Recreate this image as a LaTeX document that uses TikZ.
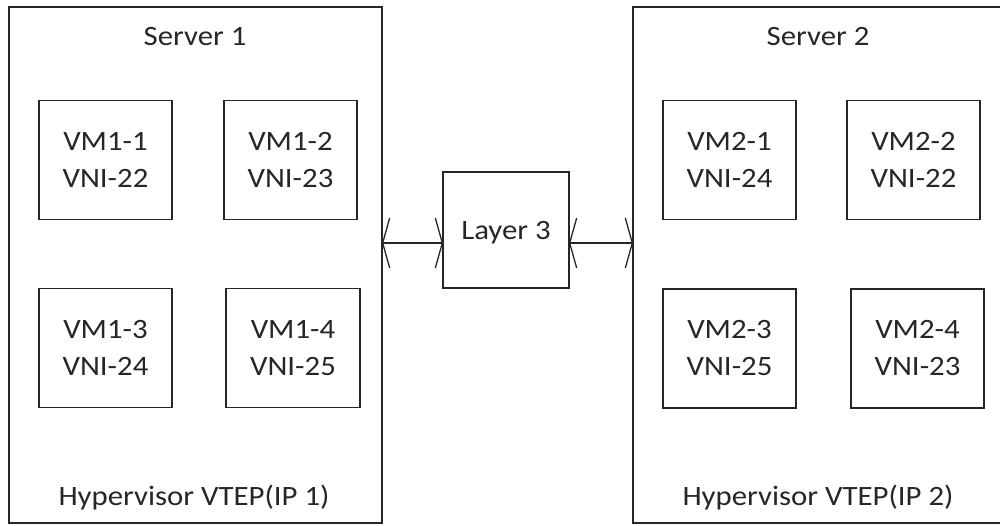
\documentclass[tikz,border=0pt]{standalone}
\usepackage{fontspec}
\setmainfont{Carlito}[FakeStretch=1.1]
\usepackage{tikz}
\usetikzlibrary{arrows.meta}
\tikzset{
    boxnode/.style = {
        align=center,
        text centered,
        rectangle,
        draw=black!85,
        line width=1.3pt,
        text=black!85,
        font=\fontsize{28}{37}\selectfont,
        inner sep=0pt,
        outer sep=0pt
    },
    servernode/.style = {
        boxnode,
        minimum width=373pt,
        minimum height=516pt
    },
    vmnode/.style = {
        boxnode,
        minimum width=133pt,
        minimum height=119pt
    },
    layernode/.style = {
        boxnode,
        text depth=0pt,
        minimum width=126pt,
        minimum height=116pt
    },
    titlelabel/.style = {
        anchor=base,
        text=black!85,
        font=\fontsize{28}{37}\selectfont,
        inner sep=0pt
    },
    link/.style = {
        draw=black!85,
        line width=1.3pt,
        {Straight Barb[length=7pt,width=50pt,line width=1.3pt]}-{Straight Barb[length=7pt,width=50pt,line width=1.3pt]}
    }
}
\begin{document}
\begin{tikzpicture}[x=1pt,y=-1pt]
    \useasboundingbox (0,0) rectangle (1000,525);
    % servers
    \node [servernode] (srv1) at (195.5,265) {};
    \node [servernode, minimum width=371pt] (srv2) at (818.5,265) {};
    \node [titlelabel] (srv1title) at (195,45) {Server 1};
    \node [titlelabel] (srv2title) at (818,45) {Server 2};
    \node [titlelabel] (hyp1) at (194,505) {Hypervisor VTEP(IP 1)};
    \node [titlelabel] (hyp2) at (818,505) {Hypervisor VTEP(IP 2)};
    % virtual machines
    \node [vmnode] (vm11) at (105.5,160) {VM1-1\\VNI-22};
    \node [vmnode] (vm12) at (290.5,160) {VM1-2\\VNI-23};
    \node [vmnode] (vm13) at (105.5,348) {VM1-3\\VNI-24};
    \node [vmnode, minimum width=134pt] (vm14) at (293,348) {VM1-4\\VNI-25};
    \node [vmnode] (vm21) at (729.5,160) {VM2-1\\VNI-24};
    \node [vmnode] (vm22) at (913.5,160) {VM2-2\\VNI-22};
    \node [vmnode] (vm23) at (729.5,348.5) {VM2-3\\VNI-25};
    \node [vmnode] (vm24) at (917.5,348.5) {VM2-4\\VNI-23};
    % layer 3
    \node [layernode] (layer3) at (506,230) {Layer 3};
    \coordinate (l3in) at ([yshift=-13pt]layer3.west);
    \coordinate (l3out) at ([yshift=-13pt]layer3.east);
    \draw [link] (l3in -| srv1.east) -- (l3in);
    \draw [link] (l3out) -- (l3out -| srv2.west);
\end{tikzpicture}
\end{document}
